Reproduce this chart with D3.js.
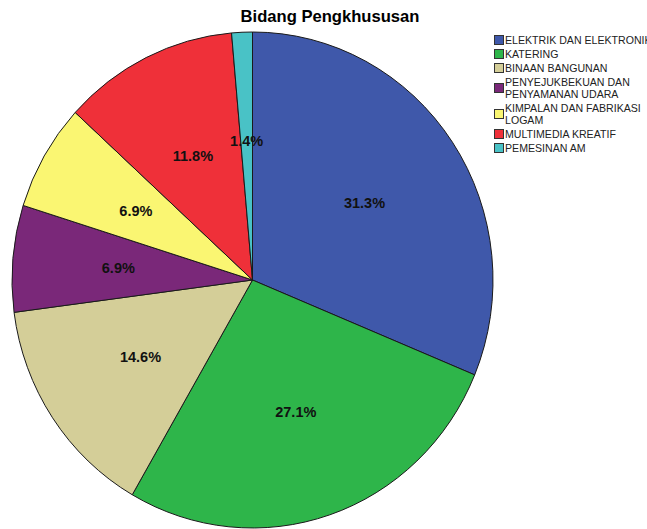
<!DOCTYPE html>
<html>
<head>
<meta charset="utf-8">
<script src="https://cdn.jsdelivr.net/npm/d3@7"></script>
<style>
  body { margin: 0; background: #fff; }
  svg { display: block; font-family: "Liberation Sans", Arial, sans-serif; }
</style>
</head>
<body>
<div id="chart"></div>
<script>
// data (n = 144)
const categories = [
  ["ELEKTRIK DAN ELEKTRONIK"],
  ["KATERING"],
  ["BINAAN BANGUNAN"],
  ["PENYEJUKBEKUAN DAN", "PENYAMANAN UDARA"],
  ["KIMPALAN DAN FABRIKASI", "LOGAM"],
  ["MULTIMEDIA KREATIF"],
  ["PEMESINAN AM"]
]
const counts = [45, 39, 21, 10, 10, 17, 2]
const percentLabels = ["31.3%", "27.1%", "14.6%", "6.9%", "6.9%", "11.8%", "1.4%"]
const colors = ["#3f58aa", "#2eb54a", "#d4ce98", "#7a2879", "#faf672", "#ef3039", "#49c2c6"]

const width = 647
const height = 529

const svg = d3.select("#chart")
  .append("svg")
  .attr("width", width)
  .attr("height", height)

// title
svg.append("text")
  .attr("x", 330)
  .attr("y", 22)
  .attr("text-anchor", "middle")
  .style("font-size", "16.6px")
  .style("font-weight", "bold")
  .text("Bidang Pengkhususan")

// the pie is a bit taller than it is wide
const cx = 252.5, cy = 280
const rx = 240.5, ry = 248

const pie = d3.pie().sort(null).value(d => d)
const arcs = pie(counts)
const arc = d3.arc().innerRadius(0).outerRadius(rx)

const g = svg.append("g")
  .attr("transform", "translate(" + cx + "," + cy + ") scale(1," + (ry / rx) + ")")

g.selectAll("path")
  .data(arcs)
  .enter()
  .append("path")
  .attr("d", arc)
  .attr("fill", (d, i) => colors[i])
  .attr("stroke", "#1a1a1a")
  .attr("stroke-width", 1)
  .attr("vector-effect", "non-scaling-stroke")

// percent labels
const labelArc = d3.arc().innerRadius(rx * 0.56).outerRadius(rx * 0.56)
svg.append("g")
  .selectAll("text")
  .data(arcs)
  .enter()
  .append("text")
  .attr("x", d => cx + labelArc.centroid(d)[0])
  .attr("y", d => cy + labelArc.centroid(d)[1] * ry / rx)
  .attr("dy", "0.35em")
  .attr("text-anchor", "middle")
  .style("font-size", "14.5px")
  .style("font-weight", "bold")
  .style("fill", "#111")
  .text((d, i) => percentLabels[i])

// legend
const legend = svg.append("g")
let yCur = 40
categories.forEach((lines, i) => {
  const mid = yCur + (lines.length - 1) * 6
  legend.append("rect")
    .attr("x", 494.5)
    .attr("y", mid - 4.5)
    .attr("width", 9)
    .attr("height", 9)
    .attr("fill", colors[i])
    .attr("stroke", "#333")
    .attr("stroke-width", 1)
  lines.forEach((t, k) => {
    legend.append("text")
      .attr("x", 505)
      .attr("y", yCur + k * 12)
      .attr("dy", "0.35em")
      .style("font-size", "10.6px")
      .style("fill", "#222")
      .text(t)
  })
  yCur += (lines.length - 1) * 12 + 14
})
</script>
</body>
</html>
